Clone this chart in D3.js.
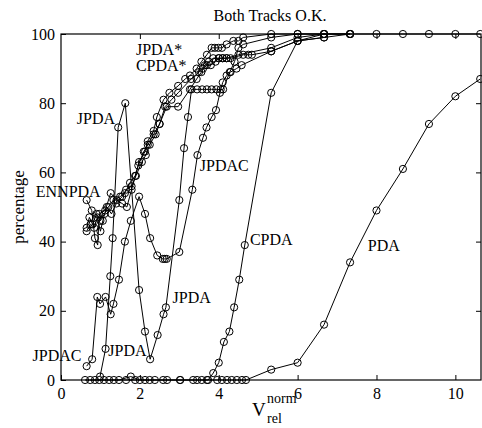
<!DOCTYPE html>
<html>
<head>
<meta charset="utf-8">
<script src="https://cdn.jsdelivr.net/npm/d3@7"></script>
<style>
	body { margin: 0; background: #fff; }
	text { font-family: "Liberation Serif", "Times New Roman", serif; fill: #000; }
</style>
</head>
<body>
<div id="chart"></div>
<script>
const margin = { top: 34, right: 1, bottom: 48, left: 61 };
const w = 482, h = 428;

// tick labels
const xTicks = [0, 2, 4, 6, 8, 10];
const yTicks = [0, 20, 40, 60, 80, 100];

// series values
const pdaX = [0.61,0.86,1.09,1.34,1.65,1.88,2.13,2.38,2.69,3.02,3.45,3.7,3.96,4.08,4.21,4.33,4.46,4.59,4.69,5.33,6.0,6.67,7.33,8.0,8.67,9.33,10.0,10.63];
const pdaY = [0,0,0,0,0,0,0,0,0,0,0,0,0,0,0,0,0,0,0,3,5,16,34,49,61,74,82,87];

const cpdaX = [0.74,0.97,1.22,1.47,1.77,2.0,2.25,2.59,3.02,3.35,3.57,3.73,3.86,4.0,4.13,4.27,4.39,4.52,4.66,5.33,6.0,6.67,7.33,8.0,8.67,9.33,10.0,10.63];
const cpdaY = [0,0,0,0,1,0,0,0,0,0,0,0,2,5,11,14,21,29,39,83,98,100,100,100,100,100,100,100];

const jpdaX = [0.99,1.13,1.25,1.31,1.45,1.63,1.98,2.13,2.26,2.45,2.6,2.66,3.0,3.12,3.22,3.31,3.45,3.58,3.7,3.82,3.94,4.05,4.11,4.28,4.4,4.5,4.62,5.33,6.0,6.67];
const jpdaY = [1,9,30,41,73,80,26,14,6,13,19,21,52,67,76,84,84,84,84,84,84,84,84,89,92,96,97,99,100,100];

const jpdacX = [0.65,0.79,0.92,0.99,1.13,1.26,1.33,1.47,1.62,1.77,1.98,2.13,2.26,2.44,2.58,2.63,2.68,3.0,3.33,3.46,3.6,3.69,3.82,3.93,4.03,4.1,4.2,4.3,4.45,4.58,5.33,6.0,6.67];
const jpdacY = [4,6,24,22,24,19,22,29,40,46,53,48,41,36,35,35,35,37,55,65,70,73,76,78,83,86,88,89,90,91,95,98,99];

const ennpdaX = [0.65,0.78,0.86,0.93,0.97,1.12,1.26,1.41,1.55,1.67,1.79,1.96,2.1,2.2,2.35,2.5,2.68,2.97,3.27,3.44,3.56,3.65,3.75,3.86,4.0,4.1,4.2,4.3,4.62,4.75,4.84,5.33,6.0,6.67,7.33];
const ennpdaY = [52,49,41,39,48,49,54,52,51,50,55,62,66,68,71,74,79,79,84,87,89,91,92,93,93,93,93,93,94,94,94,95,98,99,100];

const jpdaStarX = [0.65,0.72,0.8,0.9,1.0,1.1,1.2,1.33,1.5,1.62,1.75,1.88,1.98,2.13,2.2,2.35,2.43,2.6,2.75,2.97,3.15,3.27,3.44,3.56,3.7,3.82,3.9,3.99,4.08,4.2,4.37,4.5,4.62,5.33,6.0,6.67,7.33];
const jpdaStarY = [44,47,45,48,46,48,50,52,53,54,57,59,63,66,69,72,76,81,83,85,87,88,90,92,94,96,96,96,96,97,98,98,99,100,100,100,100];

const cpdaStarX = [0.65,0.75,0.84,0.92,1.0,1.06,1.16,1.28,1.4,1.55,1.65,1.79,1.9,2.05,2.15,2.25,2.4,2.5,2.64,2.8,2.97,3.3,3.5,3.6,3.7,3.8,3.92,4.0,4.1,4.2,4.5,5.33,6.0,6.67,7.33];
const cpdaStarY = [43,45,44,47,43,46,50,48,51,53,55,56,59,63,65,68,71,74,79,81,83,87,89,90,91,91,92,93,93,93,94,96,99,100,100];

const seriesNames = ["PDA", "CPDA", "JPDA", "JPDAC", "ENNPDA", "JPDA*", "CPDA*"];
const seriesX = [pdaX, cpdaX, jpdaX, jpdacX, ennpdaX, jpdaStarX, cpdaStarX];
const seriesY = [pdaY, cpdaY, jpdaY, jpdacY, ennpdaY, jpdaStarY, cpdaStarY];

// curve labels as they sit on the page (left edge x, middle y, data units)
const labelTexts = ["JPDA*", "CPDA*", "JPDA", "ENNPDA", "JPDAC", "JPDA", "JPDAC", "JPDA", "CPDA", "PDA"];
const labelX = [1.9, 1.9, 0.4, -0.64, 3.52, 2.83, -0.72, 1.2, 4.79, 7.78];
const labelY = [95.5, 91, 75.5, 54.6, 62, 24, 7, 8.5, 40.5, 39];

const svg = d3.select("#chart").append("svg")
	.attr("width", w)
	.attr("height", h);

const x = d3.scaleLinear().domain([0, 10.65]).range([margin.left, w - margin.right]);
const y = d3.scaleLinear().domain([0, 100]).range([h - margin.bottom, margin.top]);

//axes, ticks pointing inwards on all four sides
const tickLen = 5;
const fontSize = 16;

svg.append("g")
	.attr("transform", `translate(0, ${y(0)})`)
	.call(d3.axisBottom(x).tickValues(xTicks).tickSizeInner(-tickLen).tickSizeOuter(0).tickPadding(8))
	.call(g => g.select(".domain").remove())
	.selectAll("text").style("font-size", fontSize + "px");

svg.append("g")
	.attr("transform", `translate(0, ${y(100)})`)
	.call(d3.axisTop(x).tickValues(xTicks.slice(1)).tickSizeInner(-tickLen).tickSizeOuter(0).tickFormat(""))
	.call(g => g.select(".domain").remove());

svg.append("g")
	.attr("transform", `translate(${x(0)}, 0)`)
	.call(d3.axisLeft(y).tickValues(yTicks).tickSizeInner(-tickLen).tickSizeOuter(0).tickPadding(6))
	.call(g => g.select(".domain").remove())
	.selectAll("text").style("font-size", fontSize + "px");

svg.append("g")
	.attr("transform", `translate(${x.range()[1]}, 0)`)
	.call(d3.axisRight(y).tickValues(yTicks.slice(1, 5)).tickSizeInner(-tickLen).tickSizeOuter(0).tickFormat(""))
	.call(g => g.select(".domain").remove());

svg.selectAll(".tick line").attr("stroke", "#000");
svg.selectAll(".tick text").attr("fill", "#000");

// frame
svg.append("rect")
	.attr("x", x.range()[0])
	.attr("y", y(100))
	.attr("width", x.range()[1] - x.range()[0])
	.attr("height", y(0) - y(100))
	.attr("fill", "none")
	.attr("stroke", "#000")
	.attr("stroke-width", 1.2);

// series
const line = d3.line().x(d => x(d[0])).y(d => y(d[1]));

seriesNames.forEach((name, i) => {
	let pts = seriesX[i].map((v, j) => [v, seriesY[i][j]]);
	let g = svg.append("g").attr("class", "series");

	g.append("path")
		.datum(pts)
		.attr("d", line)
		.attr("fill", "none")
		.attr("stroke", "#000")
		.attr("stroke-width", 1);

	g.selectAll("circle")
		.data(pts)
		.join("circle")
		.attr("cx", d => x(d[0]))
		.attr("cy", d => y(d[1]))
		.attr("r", 3.6)
		.attr("fill", "none")
		.attr("stroke", "#000")
		.attr("stroke-width", 1);
});

// curve labels
svg.selectAll(".curveLabel")
	.data(labelTexts)
	.join("text")
	.attr("class", "curveLabel")
	.attr("x", (d, i) => x(labelX[i]))
	.attr("y", (d, i) => y(labelY[i]))
	.attr("dy", "0.35em")
	.style("font-size", fontSize + "px")
	.text(d => d);

// title
svg.append("text")
	.attr("x", 270)
	.attr("y", 21)
	.attr("text-anchor", "middle")
	.style("font-size", "16px")
	.text("Both Tracks O.K.");

// y label
svg.append("text")
	.attr("transform", `translate(24, ${(y(0) + y(100)) / 2}) rotate(-90)`)
	.attr("text-anchor", "middle")
	.style("font-size", "17px")
	.text("percentage");

// x label, V with norm over rel
svg.append("text").attr("x", 252).attr("y", 416).style("font-size", "19px").text("V");
svg.append("text").attr("x", 267).attr("y", 403).style("font-size", "14px").text("norm");
svg.append("text").attr("x", 267).attr("y", 423).style("font-size", "14px").text("rel");
</script>
</body>
</html>
